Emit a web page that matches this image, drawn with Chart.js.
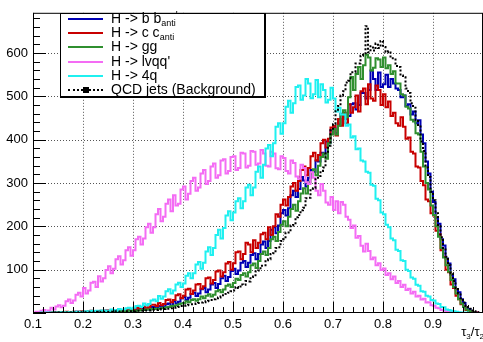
<!DOCTYPE html>
<html><head><meta charset="utf-8">
<script src="https://cdn.jsdelivr.net/npm/chart.js@4/dist/chart.umd.min.js"></script>
<style>
html,body{margin:0;padding:0;background:#fff;}
#wrap{position:relative;width:483px;height:342px;overflow:hidden;font-family:"Liberation Sans",Arial,Helvetica,sans-serif;}
#c{position:absolute;left:0;top:0;}
#legend{position:absolute;left:60px;top:13px;width:203px;height:82px;background:#fff;border:1px solid #000;border-right-width:2px;border-bottom-width:2px;}
.row{position:absolute;left:0;height:14px;width:100%;}
.sw{position:absolute;left:7px;width:35px;top:6px;height:0;border-top:2px solid;}
.sq{position:absolute;left:22px;top:4px;width:6px;height:6px;background:#000;}
.lb{position:absolute;left:50px;top:-2px;font-size:14px;line-height:16px;color:#000;white-space:nowrap;}
.lb sub{font-size:9px;vertical-align:-3px;line-height:0;}
.lb sup{font-size:10px;vertical-align:4px;line-height:0;}
#xt{position:absolute;right:-1px;top:324px;font-size:13px;color:#000;white-space:nowrap;}
#xt sub{font-size:8px;vertical-align:-3px;line-height:0;}
</style></head>
<body>
<div id="wrap">
<canvas id="c" width="483" height="342"></canvas>
<div id="legend"></div>
<div id="xt">τ<sub>3</sub>/τ<sub>2</sub></div>
</div>
<script>
// ---- data (histogram bins of width 0.005 starting at 0.1) ----
const BIN_START = 0.1;
const BIN_WIDTH = 0.005;

const xTickValues = [0.1,0.2,0.3,0.4,0.5,0.6,0.7,0.8,0.9];
const xTickLabels = ['0.1','0.2','0.3','0.4','0.5','0.6','0.7','0.8','0.9'];
const yTickValues = [100,200,300,400,500,600];
const yTickLabels = ['100','200','300','400','500','600'];

const seriesNames = ['H -> b b', 'H -> c c', 'H -> gg', "H -> lvqq'", 'H -> 4q', 'QCD jets (Background)'];
const seriesSubs  = ['anti', 'anti', '', '', '', ''];
const seriesSups  = ["'", '', '', '', '', ''];

const hbb = [
0,0, 0,0, 0,1, 1,0, 1,1, 1,2, 1,1, 2,2, 2,3, 2,2,
3,2, 3,4, 3,3, 4,3, 4,5, 4,4, 5,4, 5,6, 5,6, 7,6,
6,9, 10,7, 11,8, 10,14, 14,11, 16,13, 15,20, 22,17, 27,22, 26,34,
37,30, 35,44, 47,39, 45,55, 58,48, 54,66, 69,58, 67,80, 86,74, 83,97,
102,90, 98,116, 120,106, 116,134, 138,124, 136,158, 165,150, 166,192, 198,184, 202,230,
238,225, 242,272, 282,268, 286,314, 306,292, 312,330, 326,352, 350,370, 366,396, 392,422,
428,415, 435,460, 462,448, 455,482, 484,470, 480,508, 508,495, 515,560, 540,515, 555,522,
528,550, 522,540, 530,518, 515,498, 502,478, 482,458, 465,438, 445,412, 392,350, 322,280,
256,220, 206,170, 156,126, 114,88, 78,55, 48,32, 23,13, 9,4, 2,1, 0,0];

const hcc = [
0,0, 0,1, 1,0, 1,1, 1,2, 2,1, 2,3, 2,2, 3,3, 3,4,
3,3, 4,5, 4,4, 4,5, 5,6, 5,5, 6,7, 6,6, 7,8, 8,9,
8,12, 10,13, 15,11, 13,19, 19,16, 23,18, 21,30, 31,25, 30,41, 43,34,
40,54, 56,44, 52,66, 67,56, 62,80, 82,68, 76,96, 98,84, 94,114, 118,100,
115,140, 142,124, 136,162, 158,140, 168,150, 162,182, 185,170, 198,180, 200,228, 222,250,
262,248, 268,292, 300,282, 305,330, 338,318, 335,362, 370,352, 365,392, 400,382, 402,428,
432,410, 448,432, 462,438, 482,462, 475,502, 465,512, 518,482, 528,495, 490,525, 515,480,
505,475, 488,455, 462,438, 432,452, 430,402, 405,372, 368,338, 336,305, 295,262, 258,230,
225,190, 182,145, 130,100, 94,66, 58,40, 32,20, 15,7, 4,2, 1,1, 0,0];

const hgg = [
0,0, 0,0, 0,0, 0,1, 1,0, 1,1, 1,2, 1,1, 2,2, 2,1,
2,3, 2,2, 3,3, 3,2, 3,4, 3,3, 4,4, 4,5, 4,4, 5,6,
5,5, 6,7, 7,8, 8,9, 9,10, 10,11, 12,13, 14,16, 17,18, 20,22,
23,27, 25,30, 32,28, 32,38, 34,40, 43,38, 42,50, 53,48, 54,63, 66,60,
69,79, 76,88, 92,84, 94,110, 114,104, 120,136, 142,134, 150,170, 176,166, 187,204,
212,200, 222,240, 250,236, 258,276, 288,276, 302,322, 332,318, 340,360, 368,356, 392,412,
425,412, 432,458, 468,452, 498,545, 515,552, 568,540, 572,596, 590,560, 566,588, 585,568,
590,565, 572,552, 558,530, 530,505, 502,476, 472,446, 442,415, 412,372, 338,300, 285,248,
226,200, 176,150, 128,110, 95,76, 60,45, 32,22, 14,8, 5,2, 1,0, 0,0];

const hlvqq = [
1,3, 2,5, 7,3, 6,12, 8,15, 18,13, 17,27, 31,23, 29,42, 47,38,
58,45, 52,70, 72,60, 85,73, 80,99, 108,92, 102,124, 131,112, 122,145, 152,132,
145,170, 176,158, 172,198, 206,185, 198,228, 240,212, 222,252, 262,235, 272,248, 252,285,
292,262, 275,305, 312,282, 290,322, 330,298, 305,338, 345,312, 318,352, 355,322, 328,360,
362,330, 335,370, 368,336, 340,374, 372,342, 345,376, 368,340, 338,372, 368,334, 332,362,
358,328, 322,352, 346,315, 310,342, 335,302, 298,325, 312,282, 272,298, 282,255, 250,268,
238,258, 230,256, 250,222, 215,196, 202,174, 178,155, 142,160, 143,124, 128,110, 115,99,
103,88, 92,78, 84,69, 74,60, 65,53, 56,45, 49,38, 40,31, 33,24, 25,18,
17,12, 11,7, 6,4, 3,2, 1,1, 0,0, 0,0, 0,0, 0,0, 0,0];

const h4q = [
0,0, 0,1, 0,1, 1,0, 1,1, 1,2, 1,2, 2,1, 2,3, 3,2,
3,4, 3,5, 4,5, 3,6, 6,4, 5,8, 7,5, 9,8, 8,11, 12,10,
12,16, 17,14, 22,18, 21,29, 31,27, 39,33, 38,50, 55,45, 52,66, 70,60,
68,86, 92,80, 92,112, 118,102, 116,142, 152,134, 150,180, 192,172, 196,225, 235,214,
232,258, 265,242, 258,290, 296,272, 290,326, 338,312, 342,380, 388,362, 392,430, 438,414,
438,476, 490,462, 484,522, 525,492, 502,540, 530,496, 505,538, 498,528, 515,486, 492,520,
495,465, 474,458, 458,432, 435,405, 408,378, 380,352, 350,326, 324,296, 294,264, 260,232,
228,204, 198,172, 168,146, 143,122, 120,100, 97,82, 79,65, 63,50, 49,40, 38,30,
29,22, 21,14, 13,8, 7,5, 4,3, 2,1, 1,1, 0,0, 0,0, 0,0];

const qcd = [
0,0, 0,0, 0,0, 0,0, 0,1, 1,1, 1,1, 1,1, 1,2, 1,2,
2,2, 2,2, 2,3, 2,3, 3,3, 3,3, 3,4, 3,4, 4,4, 4,4,
4,5, 5,5, 5,6, 6,7, 7,7, 8,9, 9,10, 10,11, 12,13, 14,16,
17,18, 19,20, 21,22, 23,24, 25,27, 28,30, 32,34, 36,38, 41,44, 47,50,
52,60, 58,66, 65,74, 73,83, 84,96, 98,109, 110,122, 124,136, 138,150, 152,166,
170,186, 186,202, 203,221, 226,237, 243,265, 266,287, 288,309, 316,328, 336,372, 386,422,
436,466, 478,502, 512,532, 536,556, 556,576, 576,594, 596,662, 602,616, 606,622, 612,628,
614,602, 604,588, 588,570, 568,548, 544,518, 508,484, 474,446, 434,396, 374,336, 314,280,
260,230, 200,175, 150,130, 110,92, 74,58, 45,34, 24,16, 10,6, 4,2, 1,0];

const seriesData   = [hbb, hcc, hgg, hlvqq, h4q, qcd];
const seriesColors = ['#0000b4', '#c80000', '#2f8f2f', '#f46cf4', '#1ff0f0', '#000000'];
const seriesOrder  = [5, 4, 3, 2, 1, 0];

const toPoints = arr => arr.map((v, i) => ({x: BIN_START + (i + 0.5) * BIN_WIDTH, y: v}));

const datasets = seriesData.map((arr, k) => ({
  label: seriesNames[k] + seriesSubs[k],
  data: toPoints(arr),
  borderColor: seriesColors[k],
  backgroundColor: seriesColors[k],
  borderWidth: 2,
  borderDash: k === 5 ? [2, 2] : [],
  pointRadius: 0,
  stepped: 'middle',
  fill: false,
  order: seriesOrder[k]
}));

const framePlugin = {
  id: 'rootFrame',
  beforeDatasetsDraw(chart) {
    const {ctx, chartArea: a, scales: {x, y}} = chart;
    ctx.save();
    ctx.strokeStyle = '#555';
    ctx.lineWidth = 1;
    ctx.setLineDash([1, 2]);
    xTickValues.forEach(v => {
      const px = Math.round(x.getPixelForValue(v)) + 0.5;
      ctx.beginPath(); ctx.moveTo(px, a.top); ctx.lineTo(px, a.bottom); ctx.stroke();
    });
    yTickValues.forEach(v => {
      const py = Math.round(y.getPixelForValue(v)) + 0.5;
      ctx.beginPath(); ctx.moveTo(a.left, py); ctx.lineTo(a.right, py); ctx.stroke();
    });
    ctx.restore();
  },
  afterDatasetsDraw(chart) {
    const {ctx, chartArea: a, scales: {x, y}} = chart;
    ctx.save();
    ctx.strokeStyle = '#000';
    ctx.lineWidth = 1;
    ctx.setLineDash([]);
    ctx.strokeRect(a.left + 0.5, a.top + 0.5, a.right - a.left - 1, a.bottom - a.top - 1);
    ctx.beginPath();
    for (let k = 0; k <= 34; k++) {
      const v = k * 20;
      const len = (k % 5 === 0) ? 13 : 7;
      const py = Math.round(y.getPixelForValue(v)) + 0.5;
      ctx.moveTo(a.left, py); ctx.lineTo(a.left + len, py);
    }
    for (let k = 0; k <= 45; k++) {
      const v = 0.1 + k * 0.02;
      const len = (k % 5 === 0) ? 11 : 6;
      const px = Math.round(x.getPixelForValue(v)) + 0.5;
      ctx.moveTo(px, a.bottom); ctx.lineTo(px, a.bottom - len);
    }
    ctx.stroke();
    ctx.restore();
  }
};

new Chart(document.getElementById('c'), {
  type: 'line',
  data: {datasets},
  options: {
    responsive: false,
    animation: false,
    devicePixelRatio: 1,
    layout: {padding: {top: 5, right: 0, left: 0, bottom: 0}},
    plugins: {legend: {display: false}, tooltip: {enabled: false}},
    scales: {
      x: {
        type: 'linear', min: 0.1, max: 1.0,
        afterBuildTicks: s => { s.ticks = xTickValues.map(v => ({value: v})); },
        afterFit: s => { s.height = 29; },
        grid: {display: false, drawTicks: false},
        border: {display: false},
        ticks: {
          autoSkip: false, maxRotation: 0, padding: 4,
          color: '#000', font: {family: '"Liberation Sans", Arial, sans-serif', size: 13},
          callback: (v, i) => xTickLabels[i]
        }
      },
      y: {
        type: 'linear', min: 0, max: 693,
        afterBuildTicks: s => { s.ticks = yTickValues.map(v => ({value: v})); },
        afterFit: s => { s.width = 33; },
        grid: {display: false, drawTicks: false},
        border: {display: false},
        ticks: {
          padding: 5,
          color: '#000', font: {family: '"Liberation Sans", Arial, sans-serif', size: 13},
          callback: (v, i) => yTickLabels[i]
        }
      }
    }
  },
  plugins: [framePlugin]
});

// ---- legend (HTML, built from the series arrays) ----
const leg = document.getElementById('legend');
seriesNames.forEach((name, k) => {
  const row = document.createElement('div');
  row.className = 'row';
  row.style.top = (k * 14.2 - 2) + 'px';
  const sw = document.createElement('div');
  sw.className = 'sw';
  sw.style.borderTopColor = seriesColors[k];
  if (k === 5) sw.style.borderTopStyle = 'dotted';
  row.appendChild(sw);
  if (k === 5) { const sq = document.createElement('div'); sq.className = 'sq'; row.appendChild(sq); }
  const lb = document.createElement('div');
  lb.className = 'lb';
  lb.appendChild(document.createTextNode(name));
  if (seriesSubs[k]) { const sb = document.createElement('sub'); sb.textContent = seriesSubs[k]; lb.appendChild(sb); }
  if (seriesSups[k]) { const sp = document.createElement('sup'); sp.textContent = seriesSups[k]; lb.appendChild(sp); }
  row.appendChild(lb);
  leg.appendChild(row);
});
</script>
</body></html>
